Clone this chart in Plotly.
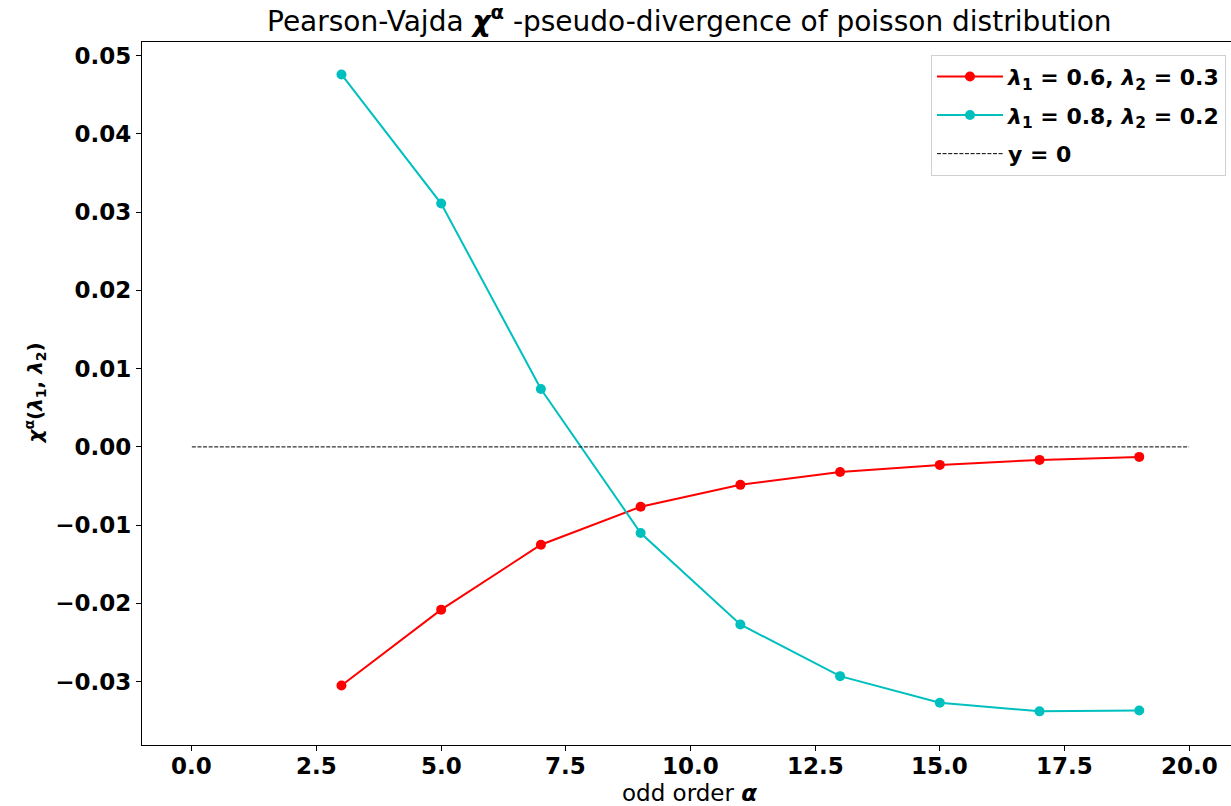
import plotly.graph_objects as go

# odd orders alpha
alpha = [3, 5, 7, 9, 11, 13, 15, 17, 19]

# pseudo-divergence values for the two Poisson parameter pairs
chi_06_03 = [-0.0305, -0.0208, -0.0125, -0.00765, -0.00485, -0.0032, -0.0023, -0.00166, -0.00128]
chi_08_02 = [0.0476, 0.0311, 0.0074, -0.0110, -0.0227, -0.0293, -0.0327, -0.0338, -0.0337]

# reference line y = 0
zero_x = [0, 20]
zero_y = [0, 0]

x_ticks = [0, 2.5, 5, 7.5, 10, 12.5, 15, 17.5, 20]
x_tick_text = ["0.0", "2.5", "5.0", "7.5", "10.0", "12.5", "15.0", "17.5", "20.0"]
y_ticks = [-0.03, -0.02, -0.01, 0.0, 0.01, 0.02, 0.03, 0.04, 0.05]

FONT = "DejaVu Sans"

fig = go.Figure()
fig.add_trace(go.Scatter(
    x=alpha, y=chi_06_03, mode="lines+markers",
    line=dict(color="#ff0000", width=2),
    marker=dict(color="#ff0000", size=10),
    name="<b><i>λ</i><sub>1</sub> = 0.6, <i>λ</i><sub>2</sub> = 0.3</b>",
    legendgroup="a",
))
fig.add_trace(go.Scatter(
    x=alpha, y=chi_08_02, mode="lines+markers",
    line=dict(color="#00bfbf", width=2),
    marker=dict(color="#00bfbf", size=10),
    name="<b><i>λ</i><sub>1</sub> = 0.8, <i>λ</i><sub>2</sub> = 0.2</b>",
    legendgroup="b",
))
fig.add_trace(go.Scatter(
    x=zero_x, y=zero_y, mode="lines",
    line=dict(color="black", width=1, dash="4px,1.6px"),
    name="<b>y = 0</b>",
    legendgroup="c",
))

tick_font = dict(family="DejaVu Sans, sans-serif", size=23, color="black", weight="bold")

# x tick labels placed just under the axis line
x_label_annotations = [
    dict(
        text=f"<b>{t}</b>", x=v, xref="x", y=0, yref="paper",
        yanchor="middle", yshift=-21, showarrow=False,
        font=dict(family="DejaVu Sans, sans-serif", size=23, color="black"),
    )
    for v, t in zip(x_ticks, x_tick_text)
]

fig.update_layout(
    width=1231, height=806,
    margin=dict(l=142, r=0, t=42, b=61),
    paper_bgcolor="white", plot_bgcolor="white",
    font=dict(family=FONT, color="black"),
    showlegend=True,
    legend=dict(
        x=0.9954, xanchor="right", y=0.982, yanchor="top",
        bgcolor="white", bordercolor="#d0d0d0", borderwidth=1,
        font=dict(family=FONT, size=22, color="black"),
        itemwidth=66, tracegroupgap=7,
    ),
    xaxis=dict(
        range=[-1.0, 20.84], tickvals=x_ticks, showticklabels=False,
        showgrid=False, zeroline=False,
        showline=True, linecolor="black", linewidth=1.2, mirror=True,
        ticks="outside", ticklen=5, tickcolor="black",
    ),
    yaxis=dict(
        range=[-0.0381, 0.05175], tickvals=y_ticks, tickformat=".2f",
        showgrid=False, zeroline=False,
        showline=True, linecolor="black", linewidth=1.2, mirror=False,
        ticks="outside", ticklen=5, tickcolor="black",
        tickfont=tick_font,
    ),
    annotations=x_label_annotations + [
        dict(
            text="Pearson-Vajda <b><i>χ</i><sup>α</sup></b> -pseudo-divergence of poisson distribution",
            xref="paper", yref="paper", x=0.5025, y=1.0, yanchor="bottom", yshift=2,
            showarrow=False, font=dict(family=FONT, size=28, color="black"),
        ),
        dict(
            text="odd order <b><i>α</i></b>",
            xref="paper", yref="paper", x=0.5025, y=0, yanchor="middle", yshift=-48,
            showarrow=False, font=dict(family=FONT, size=23, color="black"),
        ),
        dict(
            text="<b><i>χ</i><sup>α</sup>(<i>λ</i><sub>1</sub>, <i>λ</i><sub>2</sub>)</b>",
            xref="paper", yref="paper", x=0, y=0.5, xanchor="center", xshift=-107,
            textangle=-90, showarrow=False, font=dict(family=FONT, size=20, color="black"),
        ),
    ],
)

fig.write_html("out.html")
